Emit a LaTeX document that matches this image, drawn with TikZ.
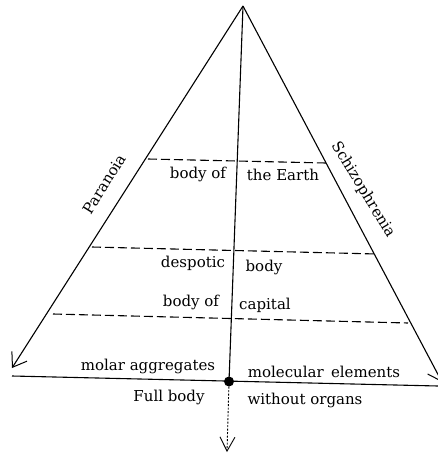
\documentclass[tikz,border=0pt]{standalone}
\usepackage{fontspec}
\setmainfont{DejaVu Serif}
\usetikzlibrary{arrows.meta}
\begin{document}
\begin{tikzpicture}[x=1pt,y=-1pt,
  edge/.style={line width=1.1pt},
  level/.style={line width=1.1pt,dash pattern=on 9pt off 4pt},
  lbl/.style={font=\fontsize{15}{17}\selectfont,inner sep=0pt},
  barb/.style={-{Straight Barb[length=13pt,width=18pt,line width=1pt]}}]
\useasboundingbox (0,0) rectangle (438,456);
\clip (0,0) rectangle (438,456);
\coordinate (apex) at (243,6);
\coordinate (lend) at (12,368);
\coordinate (rend) at (442,382);
\coordinate (bl) at (12,376);
\coordinate (br) at (438,386);
\coordinate (down) at (227,452);
\node[circle,fill,inner sep=0pt,minimum size=10pt] (dot) at (229,381.5) {};
\draw[edge,barb] (apex) -- (lend);
\draw[edge,barb] (apex) -- (rend);
\draw[edge] (apex) -- (dot.center);
\draw[edge] (bl) -- (br);
\draw[line width=0.9pt,dash pattern=on 2pt off 1.5pt,-{Straight Barb[length=14pt,width=15pt,line width=0.9pt]}] (dot) -- (down);
\coordinate (d1a) at (148,159); \coordinate (d1b) at (326,163);
\coordinate (d2a) at (92,247); \coordinate (d2b) at (377,254);
\coordinate (d3a) at (53,314); \coordinate (d3b) at (408,323);
\draw[level] (d1a) -- (d1b);
\draw[level] (d2a) -- (d2b);
\draw[level] (d3a) -- (d3b);
\node[lbl] (t1) at (198,174) {body of};
\node[lbl] (t2) at (283,175) {the Earth};
\node[lbl] (t3) at (193,263) {despotic};
\node[lbl] (t4) at (264,267) {body};
\node[lbl] (t5) at (191,302) {body of};
\node[lbl] (t6) at (265,305) {capital};
\node[lbl] (t7) at (148,366) {molar aggregates};
\node[lbl] (t8) at (324,372) {molecular\, elements};
\node[lbl] (t9) at (169,397) {Full body};
\node[lbl] (t10) at (305,400) {without organs};
\node[lbl,rotate=58] (par) at (104,184) {Paranoia};
\node[lbl,rotate=-58.7] (sch) at (363,190) {Schizophrenia};
\end{tikzpicture}
\end{document}
